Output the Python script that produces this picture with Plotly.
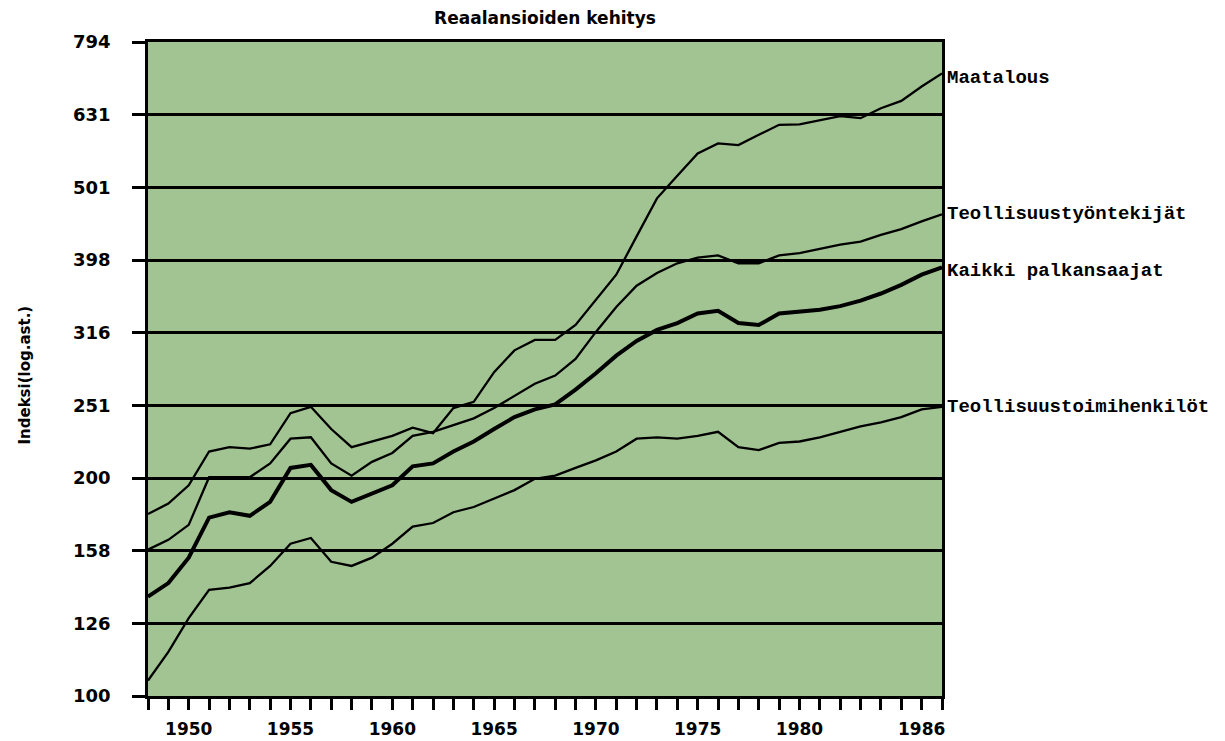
import math
import plotly.graph_objects as go

years = list(range(1948, 1988))

maatalous = [178, 184, 195, 217, 220, 219, 222, 245, 250, 233, 220, 224, 228, 234, 230, 249,
             254, 279, 299, 309, 309, 324, 351, 380, 429, 484, 520, 558, 576, 573, 592, 611,
             612, 620, 628, 624, 644, 659, 690, 719]
teoll_tyont = [159, 164, 172, 200, 200, 200, 209, 226, 227, 209, 201, 210, 216, 228, 231, 236,
               241, 249, 259, 269, 276, 291, 317, 343, 367, 382, 394, 401, 404, 394, 394, 404,
               407, 412, 418, 422, 431, 439, 450, 460]
kaikki = [137, 143, 155, 176, 179, 177, 185, 206, 208, 192, 185, 190, 195, 207, 209, 217,
          224, 233, 242, 248, 252, 264, 278, 294, 308, 319, 326, 336, 339, 326, 324, 336,
          338, 340, 344, 350, 358, 368, 380, 389]
teoll_toimi = [105, 115, 128, 140, 141, 143, 151, 162, 165, 153, 151, 155, 162, 171, 173, 179,
               182, 187, 192, 199, 201, 206, 211, 217, 226, 227, 226, 228, 231, 220, 218, 223,
               224, 227, 231, 235, 238, 242, 248, 250]

series_names = ["Maatalous", "Teollisuustyöntekijät", "Kaikki palkansaajat", "Teollisuustoimihenkilöt"]
series_values = [maatalous, teoll_tyont, kaikki, teoll_toimi]
series_widths = [2.3, 2.3, 4, 2.3]
label_yshifts = [-5, 0, -4, 0]

y_tick_vals = [100, 125.9, 158.5, 199.5, 251.2, 316.2, 398.1, 501.2, 631.0, 794.3]
y_tick_text = ["100", "126", "158", "200", "251", "316", "398", "501", "631", "794"]
x_labelled = [1950, 1955, 1960, 1965, 1970, 1975, 1980, 1986]

fig = go.Figure()
for name, vals, w, ys in zip(series_names, series_values, series_widths, label_yshifts):
    fig.add_trace(go.Scatter(x=years, y=vals, mode="lines", name=name,
                             line=dict(color="black", width=w), showlegend=False))
    fig.add_annotation(x=years[-1], y=math.log10(vals[-1]),
                       xref="x", yref="y", text=name, showarrow=False,
                       xanchor="left", yanchor="middle", xshift=3, yshift=ys,
                       font=dict(family="Liberation Mono", size=19, color="black", weight="bold"))

ytick_font = dict(family="DejaVu Sans", size=18, color="black", weight="bold")
xtick_font = dict(family="DejaVu Sans", size=17, color="black", weight="bold")

fig.update_layout(
    width=1217, height=733,
    margin=dict(l=140, r=283, t=34, b=45, autoexpand=False),
    plot_bgcolor="#a2c492", paper_bgcolor="white",
    title=dict(text="Reaalansioiden kehitys", x=(545 - 8) / 1217, xanchor="center",
               y=1 - 10 / 733, yanchor="middle",
               font=dict(family="DejaVu Sans", size=17, color="black", weight="bold")),
    xaxis=dict(range=[1948, 1987], tickmode="array", tickvals=years,
               ticktext=[str(y) if y in x_labelled else "" for y in years],
               ticks="outside", ticklen=11, tickwidth=2.5, tickcolor="black",
               ticklabelstandoff=5, automargin=False,
               showline=True, linecolor="black", linewidth=2.5, mirror=True,
               showgrid=False, zeroline=False, tickfont=xtick_font),
    yaxis=dict(type="log", range=[2, 2.9], tickmode="array", tickvals=y_tick_vals,
               ticktext=y_tick_text, ticks="outside", ticklen=13, tickwidth=2.5,
               tickcolor="black", ticklabelstandoff=18, automargin=False,
               showline=True, linecolor="black", linewidth=2.5,
               mirror=True, showgrid=True, gridcolor="black", gridwidth=2.7,
               zeroline=False, tickfont=ytick_font),
)
fig.add_annotation(text="Indeksi(log.ast.)", xref="paper", yref="paper",
                   x=(14 - 148) / 794, y=0.49, textangle=-90, showarrow=False,
                   font=dict(family="DejaVu Sans", size=15, color="black", weight="bold"))

fig.write_html("out.html")
